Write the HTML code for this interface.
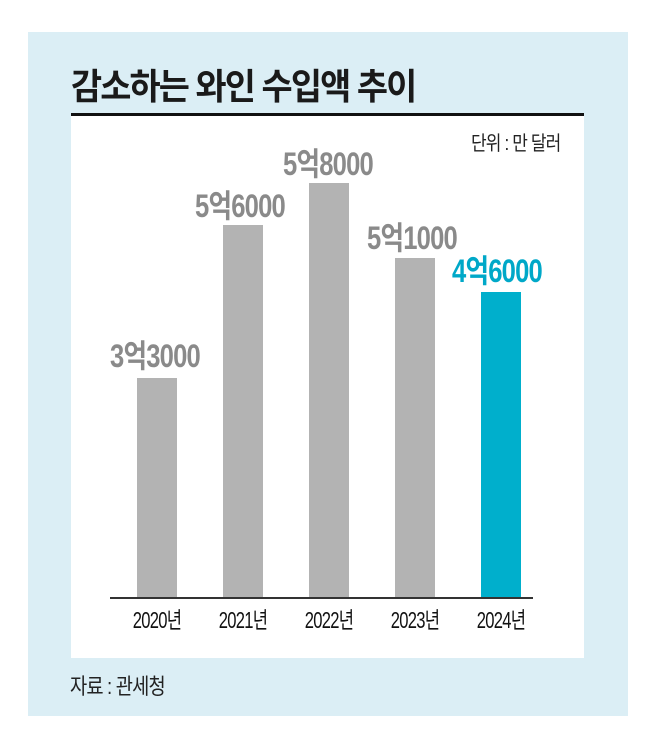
<!DOCTYPE html>
<html><head><meta charset="utf-8"><style>
body{margin:0;width:658px;height:751px;background:#fff;position:relative;overflow:hidden;font-family:"Liberation Sans","Noto Sans CJK KR",sans-serif}
.abs{position:absolute}
.panel{left:28px;top:32px;width:600px;height:684px;background:#dbeef5}
.box{left:71px;top:115px;width:513px;height:543px;background:#fff}
.bar{position:absolute;width:40px;background:#b3b3b3;bottom:153px}
.lab{position:absolute;font-weight:bold;font-size:32px;color:#8a8a8a;white-space:nowrap;transform:translateX(-50%) scaleX(0.8);line-height:1;letter-spacing:-1px}
.yr{position:absolute;top:609px;font-size:23px;color:#111;white-space:nowrap;transform:translateX(-50%) scaleX(0.72);line-height:1;letter-spacing:-1px}
</style></head><body>
<div class="abs panel"></div>
<div class="abs box"></div>
<div class="abs" style="left:71px;top:69px;font-size:36px;font-weight:bold;color:#1a1a1a;letter-spacing:-2px;line-height:1;transform:scaleX(0.94);transform-origin:left;white-space:nowrap">감소하는 와인 수입액 추이</div>
<div class="abs" style="left:71px;top:113px;width:513px;height:3px;background:#111"></div>
<div class="abs" style="left:471px;top:134px;font-size:20px;color:#222;line-height:1;letter-spacing:-1px;transform:scaleX(0.85);transform-origin:left;white-space:nowrap">단위 : 만 달러</div>
<div class="bar" style="left:137px;top:378px"></div>
<div class="bar" style="left:223px;top:225px"></div>
<div class="bar" style="left:309px;top:183px"></div>
<div class="bar" style="left:395px;top:258px"></div>
<div class="bar" style="left:481px;top:292px;background:#00afcc"></div>
<div class="abs" style="left:110px;top:597px;width:423px;height:2px;background:#333"></div>
<div class="lab" style="left:155px;top:340px">3억3000</div>
<div class="lab" style="left:240px;top:190px">5억6000</div>
<div class="lab" style="left:328px;top:148px">5억8000</div>
<div class="lab" style="left:412px;top:222px">5억1000</div>
<div class="lab" style="left:497px;top:255px;color:#00a8c8">4억6000</div>
<div class="yr" style="left:157px">2020년</div>
<div class="yr" style="left:243px">2021년</div>
<div class="yr" style="left:329px">2022년</div>
<div class="yr" style="left:415px">2023년</div>
<div class="yr" style="left:501px">2024년</div>
<div class="abs" style="left:70px;top:676px;font-size:22px;color:#222;line-height:1;letter-spacing:-1px;transform:scaleX(0.85);transform-origin:left;white-space:nowrap">자료 : 관세청</div>
</body></html>
